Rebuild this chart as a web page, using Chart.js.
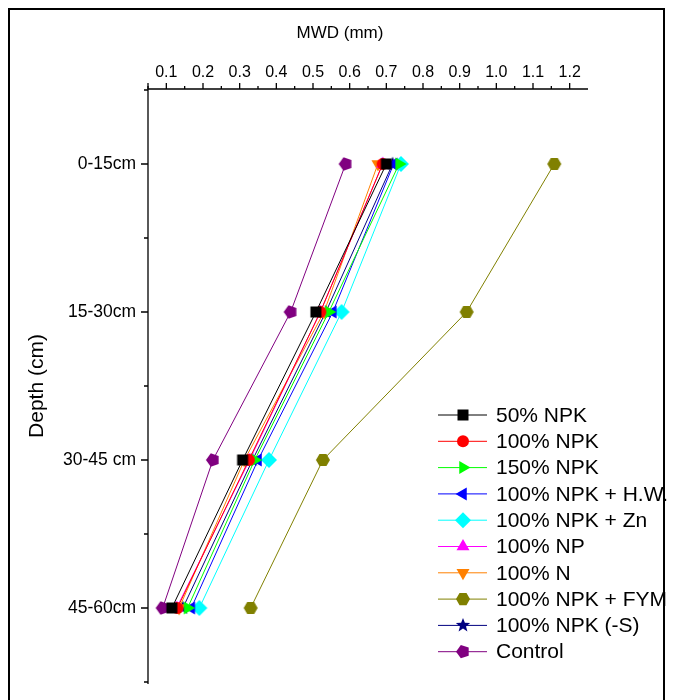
<!DOCTYPE html>
<html>
<head>
<meta charset="utf-8">
<script src="https://cdn.jsdelivr.net/npm/chart.js@4/dist/chart.umd.min.js"></script>
<style>
  body { margin: 0; background: #fff; }
  canvas { display: block; }
</style>
</head>
<body>
<canvas id="chartCanvas" width="673" height="700"></canvas>
<script>
// data
const depths = ['0-15cm', '15-30cm', '30-45 cm', '45-60cm']
const xTicks = [0.1, 0.2, 0.3, 0.4, 0.5, 0.6, 0.7, 0.8, 0.9, 1.0, 1.1, 1.2]
const seriesNames = ['50% NPK', '100% NPK', '150% NPK', '100% NPK + H.W.', '100% NPK + Zn', '100% NP', '100% N', '100% NPK + FYM', '100% NPK (-S)', 'Control']
const npk50 = [0.70, 0.508, 0.308, 0.115]
const npk100 = [0.69, 0.52, 0.325, 0.13]
const npk150 = [0.735, 0.543, 0.341, 0.158]
const npkHW = [0.72, 0.554, 0.35, 0.168]
const npkZn = [0.74, 0.578, 0.38, 0.19]
const np100 = [0.69, 0.52, 0.327, 0.128]
const n100 = [0.677, 0.53, 0.313, 0.135]
const npkFYM = [1.158, 0.919, 0.527, 0.33]
const npkS = [0.717, 0.535, 0.335, 0.145]
const control = [0.589, 0.439, 0.227, 0.09]

const seriesValues = [npk50, npk100, npk150, npkHW, npkZn, np100, n100, npkFYM, npkS, control]
const colors = ['#000000', '#ff0000', '#00ff00', '#0000ff', '#00ffff', '#ff00ff', '#ff8000', '#808000', '#000080', '#800080']
const shapes = ['square', 'circle', 'triRight', 'triLeft', 'diamond', 'triUp', 'triDown', 'hexagon', 'star', 'pentagon']

// tegner en markør på en context
function drawMarker(ctx, shape, cx, cy, color) {
  ctx.save()
  ctx.fillStyle = color
  ctx.beginPath()
  const poly = (n, r, start) => {
    for (let i = 0; i < n; i++) {
      let a = start + i * 2 * Math.PI / n
      let px = cx + r * Math.cos(a)
      let py = cy + r * Math.sin(a)
      i == 0 ? ctx.moveTo(px, py) : ctx.lineTo(px, py)
    }
    ctx.closePath()
  }
  if (shape == 'square') {
    ctx.rect(cx - 5.5, cy - 5.5, 11, 11)
  } else if (shape == 'circle') {
    ctx.arc(cx, cy, 6, 0, 2 * Math.PI)
  } else if (shape == 'triRight') {
    poly(3, 7.5, 0)
  } else if (shape == 'triLeft') {
    poly(3, 7.5, Math.PI)
  } else if (shape == 'triUp') {
    poly(3, 7.5, -Math.PI / 2)
  } else if (shape == 'triDown') {
    poly(3, 7.5, Math.PI / 2)
  } else if (shape == 'diamond') {
    poly(4, 8, 0)
  } else if (shape == 'hexagon') {
    poly(6, 7, 0)
  } else if (shape == 'pentagon') {
    poly(5, 7, Math.PI)
  } else if (shape == 'star') {
    for (let i = 0; i < 10; i++) {
      let r = i % 2 == 0 ? 7.5 : 3.2
      let a = -Math.PI / 2 + i * Math.PI / 5
      let px = cx + r * Math.cos(a)
      let py = cy + r * Math.sin(a)
      i == 0 ? ctx.moveTo(px, py) : ctx.lineTo(px, py)
    }
    ctx.closePath()
  }
  ctx.fill()
  ctx.restore()
}

function markerImage(shape, color) {
  const c = document.createElement('canvas')
  c.width = 18
  c.height = 18
  drawMarker(c.getContext('2d'), shape, 9, 9, color)
  return c
}

const datasets = seriesNames.map((name, i) => ({
  label: name,
  data: seriesValues[i].map((v, j) => ({ x: v, y: j })),
  borderColor: colors[i],
  backgroundColor: colors[i],
  borderWidth: 1,
  pointStyle: markerImage(shapes[i], colors[i]),
  pointRadius: 7,
  fill: false,
  tension: 0
}))

const font = '"Liberation Sans", Arial, sans-serif'

// akser, titler, legend og ramme tegnes her
const decorations = {
  id: 'decorations',
  beforeDatasetsDraw(chart) {
    const ctx = chart.ctx
    const xs = chart.scales.x
    const ys = chart.scales.y
    const top = ys.getPixelForValue(-0.5) - 1
    const left = xs.getPixelForValue(0.05)
    ctx.save()
    ctx.strokeStyle = '#000'
    ctx.fillStyle = '#000'
    ctx.lineWidth = 1.3

    // x akse øverst
    ctx.beginPath()
    ctx.moveTo(left, top)
    ctx.lineTo(xs.getPixelForValue(1.25), top)
    for (let k = 1; k <= 24; k++) {
      let v = 0.05 * k
      let px = xs.getPixelForValue(v)
      let major = k % 2 == 0
      ctx.moveTo(px, top)
      ctx.lineTo(px, top - (major ? 6 : 3))
    }
    ctx.stroke()
    ctx.font = '16px ' + font
    ctx.textAlign = 'center'
    ctx.textBaseline = 'alphabetic'
    xTicks.forEach(v => {
      ctx.fillText(v.toFixed(1), xs.getPixelForValue(v), top - 12)
    })
    ctx.font = '17px ' + font
    ctx.fillText('MWD (mm)', 340, 38)

    // y akse
    ctx.beginPath()
    ctx.moveTo(left, top - 6)
    ctx.lineTo(left, ys.getPixelForValue(3.5) + 2)
    for (let k = 0; k <= 8; k++) {
      let v = -0.5 + k * 0.5
      let py = ys.getPixelForValue(v)
      let major = k % 2 == 1
      ctx.moveTo(left, py)
      ctx.lineTo(left - (major ? 7 : 4), py)
    }
    ctx.stroke()
    ctx.font = '17.5px ' + font
    ctx.textAlign = 'right'
    ctx.textBaseline = 'middle'
    depths.forEach((d, j) => {
      ctx.fillText(d, 136, ys.getPixelForValue(j))
    })
    ctx.save()
    ctx.translate(37, 386)
    ctx.rotate(-Math.PI / 2)
    ctx.textAlign = 'center'
    ctx.font = '21px ' + font
    ctx.fillText('Depth (cm)', 0, 0)
    ctx.restore()
    ctx.restore()
  },
  afterDraw(chart) {
    const ctx = chart.ctx
    ctx.save()
    // legend
    ctx.font = '21px ' + font
    ctx.textAlign = 'left'
    ctx.textBaseline = 'middle'
    seriesNames.forEach((name, i) => {
      let y = 415 + i * 26.3
      ctx.strokeStyle = colors[i]
      ctx.lineWidth = 1
      ctx.beginPath()
      ctx.moveTo(438, y)
      ctx.lineTo(487, y)
      ctx.stroke()
      drawMarker(ctx, shapes[i], 463, y, colors[i])
      ctx.fillStyle = '#000'
      ctx.fillText(name, 496, y + 1)
    })
    // ramme
    ctx.strokeStyle = '#000'
    ctx.lineWidth = 2
    ctx.strokeRect(9, 9, 655, 720)
    ctx.restore()
  }
}

//opret chart
const chart = new Chart(document.getElementById('chartCanvas'), {
  type: 'line',
  data: { datasets: datasets },
  options: {
    responsive: false,
    animation: false,
    devicePixelRatio: 1,
    layout: {
      padding: { left: 148, right: 85, top: 90, bottom: 18 }
    },
    scales: {
      x: { type: 'linear', min: 0.05, max: 1.25, display: false },
      y: { type: 'linear', min: -0.5, max: 3.5, reverse: true, display: false }
    },
    plugins: {
      legend: { display: false },
      tooltip: { enabled: false }
    }
  },
  plugins: [decorations]
})
</script>
</body>
</html>
